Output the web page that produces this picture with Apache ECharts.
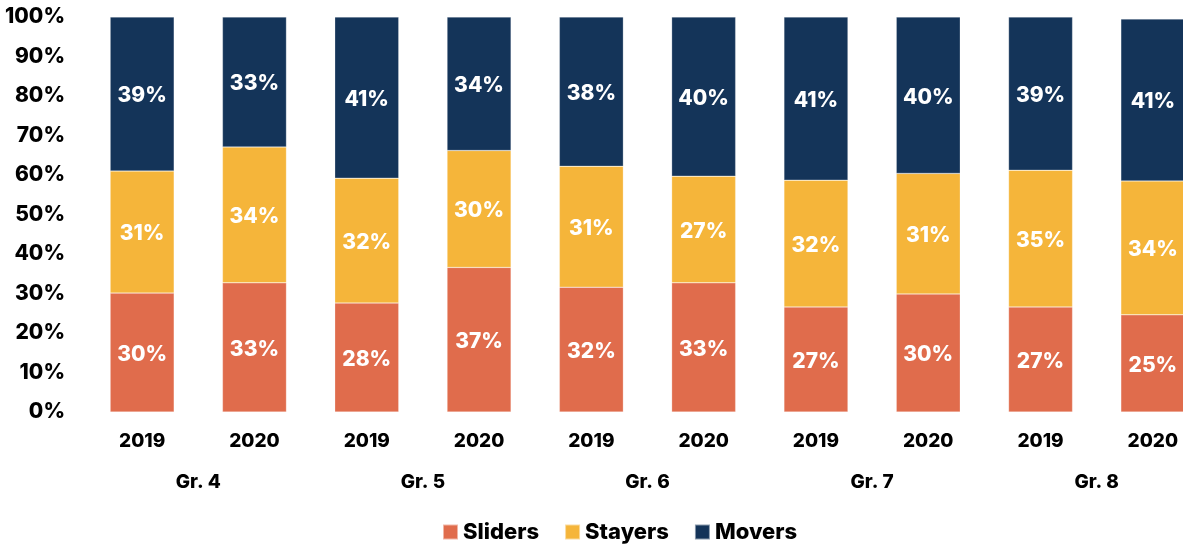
<!DOCTYPE html>
<html>
<head>
<meta charset="utf-8">
<script src="https://cdn.jsdelivr.net/npm/echarts@6/dist/echarts.min.js"></script>
<style>
  html, body { margin: 0; padding: 0; background: #fff; overflow: hidden; }
  #chart { width: 1183px; height: 545px; }
</style>
</head>
<body>
<div id="chart"></div>
<script>
const years = ['2019', '2020', '2019', '2020', '2019', '2020', '2019', '2020', '2019', '2020'];
const grades = ['Gr. 4', 'Gr. 5', 'Gr. 6', 'Gr. 7', 'Gr. 8'];
const sliders = [30.1, 32.7, 27.6, 36.6, 31.6, 32.7, 26.6, 29.9, 26.6, 24.6];
const stayers = [30.9, 34.4, 31.6, 29.6, 30.6, 27.0, 32.1, 30.5, 34.6, 33.9];
const movers = [39.0, 32.9, 40.8, 33.8, 37.8, 40.3, 41.3, 39.6, 38.8, 41.0];
const colors = ['#E06C4C', '#F5B53A', '#143459'];
const font = 'Inter';

const chart = echarts.init(document.getElementById('chart'));

const makeSeries = (name, data, color) => ({
  name: name,
  type: 'bar',
  stack: 'total',
  barWidth: '57%',
  data: data,
  itemStyle: { color: color, borderColor: 'rgba(255,255,255,0.5)', borderWidth: 0.5 },
  label: {
    show: true,
    position: 'inside',
    offset: [0, 2],
    color: '#fff',
    fontFamily: font,
    fontWeight: 800,
    fontSize: 21,
    formatter: (p) => Math.round(p.value) + '%',
  },
});

const axisText = { fontFamily: font, fontWeight: 800, fontSize: 19, color: '#000' };

chart.setOption({
  animation: false,
  // the last bar runs past the right edge in the original, so the grid does too
  grid: { left: 86, right: -26, top: 17, bottom: 133, outerBoundsMode: 'none' },
  legend: {
    top: 516,
    left: 437,
    icon: 'rect',
    itemWidth: 15,
    itemHeight: 15,
    itemGap: 25,
    textStyle: { fontFamily: font, fontWeight: 800, fontSize: 22, color: '#000' },
    data: ['Sliders', 'Stayers', 'Movers'],
  },
  xAxis: [
    {
      type: 'category',
      data: years,
      axisLine: { show: false },
      axisTick: { show: false },
      axisLabel: Object.assign({ margin: 20 }, axisText),
    },
    {
      type: 'category',
      data: grades,
      position: 'bottom',
      offset: 41,
      axisLine: { show: false },
      axisTick: { show: false },
      axisLabel: Object.assign({ margin: 20 }, axisText),
    },
  ],
  yAxis: {
    type: 'value',
    min: 0,
    max: 100,
    interval: 10,
    splitLine: { show: false },
    axisLine: { show: false },
    axisTick: { show: false },
    axisLabel: Object.assign({ margin: 21, formatter: '{value}%' }, axisText, { fontSize: 21 }),
  },
  series: [
    makeSeries('Sliders', sliders, colors[0]),
    makeSeries('Stayers', stayers, colors[1]),
    makeSeries('Movers', movers, colors[2]),
  ],
});
</script>
</body>
</html>
